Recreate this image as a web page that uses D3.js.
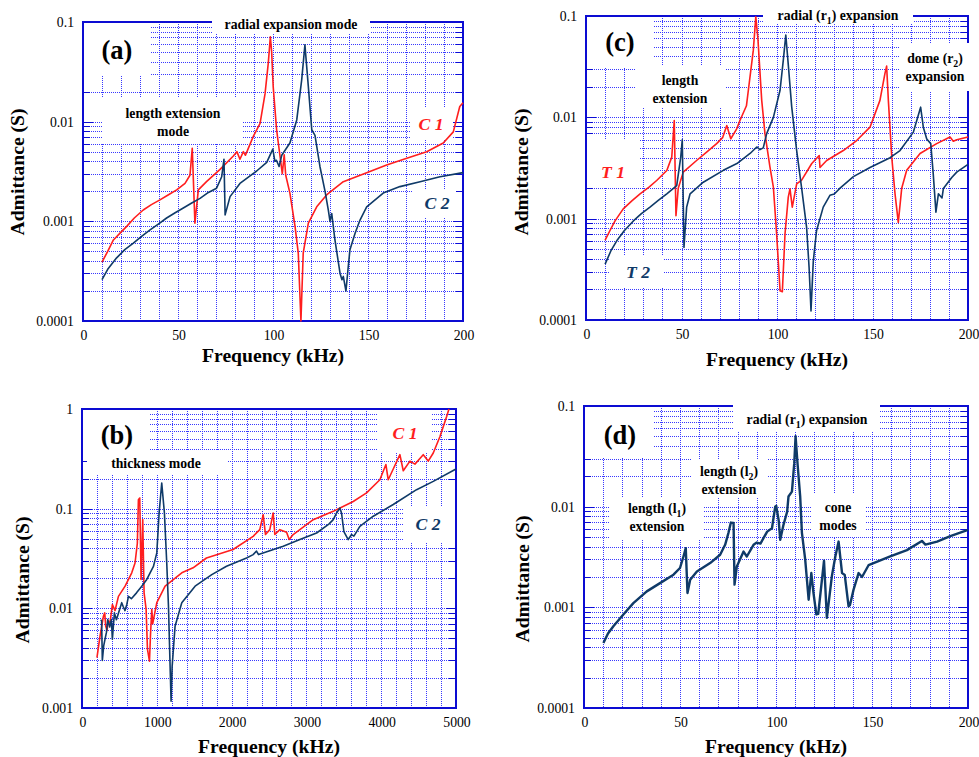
<!DOCTYPE html>
<html>
<head>
<meta charset="utf-8" />
<style>
  body { margin: 0; background: #fff; }
  svg { display: block; }
  .grid line { stroke: #3838ff; stroke-width: 1; stroke-dasharray: 1,1; shape-rendering: crispEdges; }
  .frame { fill: none; stroke: #0c0cd2; stroke-width: 2; }
  .tick { stroke: #0c0cd2; stroke-width: 1; shape-rendering: crispEdges; }
  .curve { fill: none; stroke-linejoin: round; }
</style>
</head>
<body>
<div id="chart"></div>
<script src="https://d3js.org/d3.v7.min.js"></script>
<script>

//// data : [frequency kHz, admittance S] ////
var aC1 = [[10,3.9e-4],[13,5.0e-4],[16,6.5e-4],[20,7.8e-4],[23,8.9e-4],[27,1.08e-3],[31.7,1.30e-3],[36,1.47e-3],
  [40.5,1.64e-3],[45,1.85e-3],[49.3,2.07e-3],[53.7,2.4e-3],[56.3,2.9e-3],[57.5,5.4e-3],[58.9,9.6e-4],[60.7,2.07e-3],
  [65,2.5e-3],[72,3.3e-3],[79,4.5e-3],[81,5.0e-3],[82.6,4.2e-3],[84.4,5.0e-3],[85.5,4.6e-3],[87,5.4e-3],[89.6,7.1e-3],
  [93.2,9.6e-3],[95.8,1.9e-2],[97.5,3.85e-2],[98.6,7.1e-2],[99.3,5.0e-2],[100.1,2.25e-2],[101.9,8.3e-3],[103.7,4.5e-3],
  [104.9,3.0e-3],[105.9,4.65e-3],[106.7,2.9e-3],[108.9,1.92e-3],[111.6,8.9e-4],[113.3,4.8e-4],[114.7,1.0e-4],
  [115.9,4.8e-4],[118.6,9.6e-4],[123,1.4e-3],[128.2,1.84e-3],[137,2.5e-3],[149.3,3.08e-3],[159.8,3.68e-3],
  [170.4,4.3e-3],[180.9,5.0e-3],[189.6,6.1e-3],[194.9,7.9e-3],[198.3,1.42e-2],[200,1.55e-2]];

var aC2 = [[10,2.6e-4],[13,3.3e-4],[17.7,4.3e-4],[22,5.2e-4],[26.5,6.05e-4],[31,7.1e-4],[35.3,8.2e-4],[40,9.5e-4],
  [44,1.08e-3],[48.5,1.22e-3],[52.8,1.36e-3],[57,1.52e-3],[61.6,1.7e-3],[66,1.95e-3],[70.3,2.15e-3],[73,2.8e-3],
  [74.2,4.2e-3],[74.8,1.16e-3],[77.4,1.77e-3],[82.6,2.4e-3],[91.4,3.2e-3],[96.7,3.9e-3],[99.9,5.3e-3],[101,4.0e-3],
  [101.8,4.1e-3],[103.2,3.55e-3],[104.6,4.6e-3],[108.9,6.1e-3],[112.5,1.04e-2],[115.1,2.63e-2],[116.8,5.9e-2],
  [118.6,2.25e-2],[120.4,8.3e-3],[122.1,7.3e-3],[124.7,3.55e-3],[127.4,2.0e-3],[129.1,1.3e-3],[130,1.0e-3],
  [130.9,1.2e-3],[132.6,6.5e-4],[135.3,3.0e-4],[136.3,2.6e-4],[137,2.8e-4],[138.4,2.0e-4],[139.6,3.5e-4],
  [140.5,5.2e-4],[143.2,7.6e-4],[145.8,1.03e-3],[149.3,1.4e-3],[158,1.92e-3],[166.8,2.23e-3],[177.4,2.5e-3],
  [187.9,2.8e-3],[200,3.08e-3]];

var bC1 = [[200,3.2e-3],[241,5.25e-3],[286,8.3e-3],[304,9.0e-3],[317,6.6e-3],[335,6.0e-3],[350,7.5e-3],[375,7.2e-3],
  [406,1.09e-2],[442,9.5e-3],[487,1.32e-2],[576,1.67e-2],[665,2.27e-2],[709,2.85e-2],[740,4.5e-2],[754,1.23e-1],
  [772,1.28e-1],[790,1.95e-2],[812,7.76e-2],[830,1.43e-2],[857,9.8e-3],[875,3.9e-3],[902,2.95e-3],[915,5.25e-3],
  [933,9.8e-3],[945,7.0e-3],[1000,1.14e-2],[1111,1.67e-2],[1334,2.27e-2],[1485,2.55e-2],[1664,3.2e-2],[2020,3.89e-2],
  [2288,5.28e-2],[2377,6.16e-2],[2422,8.7e-2],[2453,5.5e-2],[2511,6.16e-2],[2556,9.06e-2],[2578,5.5e-2],
  [2645,6.16e-2],[2735,5.8e-2],[2770,4.9e-2],[2823,5.5e-2],[3091,7.76e-2],[3359,9.4e-2],[3626,1.18e-1],
  [3804,1.44e-1],[3982,1.95e-1],[4063,2.77e-1],[4094,1.95e-1],[4161,2.5e-1],[4250,3.48e-1],[4295,2.4e-1],
  [4384,3.0e-1],[4451,2.8e-1],[4562,3.48e-1],[4629,3.0e-1],[4696,3.62e-1],[4786,5.3e-1],[4875,8.4e-1],[4906,1.0]];

var bC2 = [[250,7.7e-3],[262,7.5e-3],[272,3.0e-3],[290,4.2e-3],[308,4.9e-3],[326,5.7e-3],[344,7.7e-3],[370,6.5e-3],
  [393,7.7e-3],[406,4.9e-3],[433,9.0e-3],[460,7.7e-3],[531,1.14e-2],[549,1.05e-2],[575,9.5e-3],[600,1.1e-2],
  [621,1.32e-2],[660,1.25e-2],[729,1.43e-2],[799,1.67e-2],[866,1.95e-2],[955,2.63e-2],[1000,3.6e-2],[1031,9.06e-2],
  [1066,1.81e-1],[1102,9.0e-2],[1133,2.85e-2],[1156,1.05e-2],[1178,2.6e-3],[1191,1.17e-3],[1205,2.6e-3],
  [1244,6.6e-3],[1334,1.14e-2],[1512,1.67e-2],[1735,2.18e-2],[1932,2.64e-2],[2200,3.2e-2],[2288,3.46e-2],
  [2333,3.75e-2],[2360,3.46e-2],[2690,4.2e-2],[2913,4.9e-2],[3136,5.7e-2],[3300,7.0e-2],[3359,7.76e-2],
  [3404,9.06e-2],[3448,1.016e-1],[3470,9.0e-2],[3501,5.9e-2],[3559,4.9e-2],[3604,5.5e-2],[3635,5.3e-2],
  [3715,6.65e-2],[3894,8.4e-2],[4161,1.1e-1],[4473,1.55e-1],[4696,1.88e-1],[5000,2.5e-1]];

var cT1 = [[10,6.15e-4],[12.5,7.6e-4],[15.2,9.5e-4],[19.5,1.25e-3],[24,1.5e-3],[28.3,1.76e-3],[33,2.05e-3],[37,2.38e-3],
  [42.3,2.99e-3],[44.9,4.05e-3],[46.2,9.3e-3],[47.1,1.07e-3],[48.3,2.0e-3],[50.9,2.88e-3],[57.9,3.75e-3],[63,4.5e-3],
  [68.4,5.5e-3],[71.5,6.3e-3],[73.7,8.3e-3],[75.8,6.15e-3],[78.9,7.7e-3],[80.6,9.3e-3],[84,1.3e-2],[85,1.85e-2],
  [87.6,4.6e-2],[88.9,9.8e-2],[90,6.0e-2],[92,1.47e-2],[93.7,6.9e-3],[96.3,3.25e-3],[98.1,2.05e-3],[99.8,7.1e-4],
  [101.6,1.94e-4],[102.8,1.9e-4],[104.2,7.1e-4],[105.9,1.63e-3],[106.8,1.97e-3],[108,1.3e-3],[110.3,2.2e-3],
  [112.9,2.4e-3],[118.2,3.5e-3],[122.1,4.2e-3],[122.5,3.2e-3],[126,3.75e-3],[134.7,4.7e-3],[141.7,5.9e-3],
  [148.7,8.0e-3],[153.9,1.47e-2],[156.5,2.7e-2],[157.4,3.2e-2],[158.3,1.47e-2],[160.1,4.0e-3],[161.8,1.76e-3],
  [163.5,9.2e-4],[165.3,2.0e-3],[167.9,3.0e-3],[174.9,4.4e-3],[183.6,5.5e-3],[190.6,6.4e-3],[192.3,5.8e-3],
  [194.1,6.0e-3],[200,6.4e-3]];

var cT2 = [[10,3.56e-4],[13,4.8e-4],[16.1,6.05e-4],[20,7.6e-4],[24.8,9.5e-4],[29,1.12e-3],[33.5,1.3e-3],[38,1.52e-3],
  [42.3,1.76e-3],[47.5,2.12e-3],[49.6,4.05e-3],[50.4,6.0e-3],[51.3,5.2e-4],[52.7,1.3e-3],[54.5,1.76e-3],[61.4,2.29e-3],
  [71.9,3.0e-3],[79,3.5e-3],[85.9,4.4e-3],[89.4,5.1e-3],[91.1,4.8e-3],[92.8,5.0e-3],[94.6,6.9e-3],[98.1,1.0e-2],
  [101.6,1.85e-2],[103.3,3.67e-2],[104.6,6.5e-2],[106,3.15e-2],[107.7,1.27e-2],[110.3,4.7e-3],[112.9,2.0e-3],
  [115.5,8.2e-4],[116.8,3.3e-4],[117.8,1.23e-4],[119,3.8e-4],[120.7,7.6e-4],[124.2,1.3e-3],[127.7,1.7e-3],
  [130,1.75e-3],[133,2.0e-3],[140,2.6e-3],[148.7,3.2e-3],[159.2,4.0e-3],[164.4,4.7e-3],[171.4,7.15e-3],
  [175.2,1.26e-2],[176.6,8.0e-3],[178.4,6.1e-3],[180.5,5.5e-3],[181.8,2.77e-3],[183.2,1.16e-3],[184.5,1.76e-3],
  [186.4,1.6e-3],[187.1,1.98e-3],[191.5,2.55e-3],[194.1,2.88e-3],[200,3.43e-3]];

var dS = [[10.1,4.43e-4],[12.5,5.5e-4],[15.3,6.5e-4],[20.5,8.5e-4],[25.7,1.1e-3],[32.7,1.44e-3],[39.6,1.74e-3],
  [46.6,2.11e-3],[50,2.46e-3],[51.8,3.2e-3],[53,3.87e-3],[53.9,1.39e-3],[55.3,1.88e-3],[58.8,2.27e-3],[65.7,2.75e-3],
  [70.9,3.33e-3],[73.5,4.18e-3],[75.2,5.46e-3],[76.5,6.95e-3],[77.9,6.9e-3],[78.4,1.68e-3],[79.6,2.55e-3],
  [83.1,3.58e-3],[84.8,3.2e-3],[88.3,4.18e-3],[90,4.4e-3],[91.9,4.3e-3],[95.4,5.65e-3],[97.9,6.1e-3],[99.6,1.0e-2],
  [100.1,1.02e-2],[101.4,7.3e-3],[102.2,4.68e-3],[103.9,6.6e-3],[105.8,8.9e-3],[106.5,1.26e-2],[108.3,1.41e-2],
  [109.5,2.69e-2],[110.2,5.0e-2],[111.2,2.7e-2],[112.6,1.26e-2],[113.5,5.5e-3],[115.2,3.0e-3],[117,1.19e-3],
  [118.4,2.19e-3],[119.5,1.4e-3],[121,8.5e-4],[122,8.6e-4],[124.3,2.19e-3],[125,2.9e-3],[126.5,7.85e-4],
  [129.1,2.04e-3],[130.9,3.2e-3],[132.6,4.5e-3],[134.4,2.19e-3],[135.8,2.1e-3],[137.8,1.02e-3],[138.5,1.05e-3],
  [140.4,1.5e-3],[143,2.19e-3],[144.8,2.0e-3],[148.2,2.62e-3],[150.8,2.75e-3],[159.5,3.2e-3],[168.2,3.7e-3],
  [176,4.57e-3],[177.8,4.2e-3],[183.9,4.5e-3],[190.8,5.1e-3],[200,5.88e-3]];

// tick labels
var kHzTicks = [0, 50, 100, 150, 200];
var mhzTicks = [0, 1000, 2000, 3000, 4000, 5000];
var admTicks4 = ['0.0001', '0.001', '0.01', '0.1'];
var admTicks3 = ['0.001', '0.01', '0.1', '1'];

var red = '#ff1e1e', navy = '#0f3a68';

// pick a serif face that is really there (canvas width test)
var fontFace = (function () {
  var ctx = document.createElement('canvas').getContext('2d');
  var probe = 'abcdefghijklmnopqrstuvwxyz ABCDEFGHIJ 0123456789 ()';
  function w(f) { ctx.font = '40px ' + f; return ctx.measureText(probe).width; }
  var mono = w('monospace'), sans = w('sans-serif');
  var names = ['Liberation Serif', 'Tinos', 'Times New Roman', 'Times', 'DejaVu Serif', 'Noto Serif', 'FreeSerif', 'Nimbus Roman'];
  for (var i = 0; i < names.length; i++) {
    var a = w('"' + names[i] + '", monospace'), b = w('"' + names[i] + '", sans-serif');
    if (a !== mono && b !== sans) return '"' + names[i] + '", serif';
  }
  return 'serif';
})();

//// layout ////
var panels = [
  { box: [83, 22, 463, 321], x: [0, 200], y: [1e-4, 0.1], xt: kHzTicks, xStep: 10, yt: admTicks4,
    xTitle: [273, 362], yTitle: [24, 172], width: 1.6,
    series: [[aC1, red], [aC2, navy]],
    masks: [[84, 23, 150, 75], [212, 8, 370, 33], [102, 97, 243, 144], [410, 108, 452, 140], [413, 190, 456, 217]],
    notes: [{ t: ['(a)'], at: [117, 59], cls: 'tag' },
            { t: ['radial expansion mode'], at: [291, 29] },
            { t: ['length extension', 'mode'], at: [173, 118] },
            { t: ['C 1'], at: [431, 130], cls: 'slabel', fill: red },
            { t: ['C 2'], at: [437, 209], cls: 'slabel', fill: navy }] },
  { box: [82, 409, 456, 708], x: [0, 5000], y: [1e-3, 1], xt: mhzTicks, xStep: 200, yt: admTicks3,
    xTitle: [269, 753], yTitle: [29, 580], width: 1.6,
    series: [[bC1, red], [bC2, navy]],
    masks: [[83, 410, 150, 450], [87, 450, 227, 475], [378, 410, 432, 452], [403, 507, 455, 542]],
    notes: [{ t: ['(b)'], at: [117, 444], cls: 'tag' },
            { t: ['thickness mode'], at: [156, 468] },
            { t: ['C 1'], at: [405, 439], cls: 'slabel', fill: red },
            { t: ['C 2'], at: [428, 530], cls: 'slabel', fill: navy }] },
  { box: [586, 16, 968, 320], x: [0, 200], y: [1e-4, 0.1], xt: kHzTicks, xStep: 10, yt: admTicks4,
    xTitle: [777, 366], yTitle: [528, 172], width: 1.6,
    series: [[cT1, red], [cT2, navy]],
    masks: [[587, 17, 653, 68], [763, 2, 913, 24], [635, 66, 725, 107], [900, 43, 975, 91],
            [587, 140, 640, 188], [610, 256, 663, 288]],
    notes: [{ t: ['(c)'], at: [620, 51], cls: 'tag' },
            { t: ['radial (r_1) expansion'], at: [838, 20] },
            { t: ['length', 'extension'], at: [680, 85] },
            { t: ['dome (r_2)', 'expansion'], at: [935, 63] },
            { t: ['T 1'], at: [613, 178], cls: 'slabel', fill: red },
            { t: ['T 2'], at: [638, 278], cls: 'slabel', fill: navy }] },
  { box: [584, 406, 968, 708], x: [0, 200], y: [1e-4, 0.1], xt: kHzTicks, xStep: 10, yt: admTicks4,
    xTitle: [776, 753], yTitle: [529, 579], width: 2.4,
    series: [[dS, navy]],
    masks: [[585, 407, 653, 458], [733, 398, 880, 432], [692, 459, 767, 497], [610, 498, 703, 540],
            [812, 493, 866, 537]],
    notes: [{ t: ['(d)'], at: [620, 444], cls: 'tag' },
            { t: ['radial (r_1) expansion'], at: [807, 424] },
            { t: ['length (l_2)', 'extension'], at: [729, 476] },
            { t: ['length (l_1)', 'extension'], at: [657, 513] },
            { t: ['cone', 'modes'], at: [838, 512] }] }
];

var svg = d3.select('#chart').append('svg')
  .attr('width', 979)
  .attr('height', 757)
  .style('font-family', fontFace);

// scale all type so "Frequency (kHz)" comes out about 142px wide, as in the original
var probeT = svg.append('text').style('font-size', '20px').style('font-weight', 'bold').text('Frequency (kHz)');
var k = Math.min(1.05, 142 / probeT.node().getComputedTextLength());
probeT.remove();

var styles = {
  tlabel: { size: 14, weight: 'normal', italic: false },
  atitle: { size: 20, weight: 'bold', italic: false },
  note:   { size: 14, weight: 'bold', italic: false },
  tag:    { size: 27, weight: 'bold', italic: false },
  slabel: { size: 18, weight: 'bold', italic: true }
};
function styleText(sel, name) {
  var s = styles[name];
  return sel.style('font-size', (s.size * k) + 'px').style('font-weight', s.weight)
    .style('font-style', s.italic ? 'italic' : 'normal').attr('fill', '#000');
}

// writes "r_1" as r with subscript 1
function richText(sel, str) {
  str.split(/_(\d)/).forEach(function (part, i) {
    if (!part) return;
    var ts = sel.append('tspan').text(part);
    if (i % 2 === 1) ts.style('font-size', (10 * k) + 'px').attr('dy', 4);
    else if (i > 0) ts.attr('dy', -4);
  });
}

panels.forEach(function (p) {
  var x0 = p.box[0], y0 = p.box[1], x1 = p.box[2], y1 = p.box[3];
  var x = d3.scaleLinear().domain(p.x).range([x0, x1]);
  var y = d3.scaleLog().domain(p.y).range([y1, y0]);
  var g = svg.append('g');

  // minor log values 1..9 x 10^n
  var logVals = y.ticks().filter(function (v) { return v > p.y[0] * 1.0001 && v < p.y[1] * 0.9999; });
  var xVals = d3.range(p.x[0] + p.xStep, p.x[1] - p.xStep / 2, p.xStep);

  var grid = g.append('g').attr('class', 'grid');
  grid.selectAll('.h').data(logVals).enter().append('line')
    .attr('x1', x0).attr('x2', x1)
    .attr('y1', function (d) { return Math.round(y(d)) + 0.5; })
    .attr('y2', function (d) { return Math.round(y(d)) + 0.5; });
  grid.selectAll('.v').data(xVals).enter().append('line')
    .attr('y1', y0).attr('y2', y1)
    .attr('x1', function (d) { return Math.round(x(d)) + 0.5; })
    .attr('x2', function (d) { return Math.round(x(d)) + 0.5; });

  // inward ticks on left and right
  logVals.forEach(function (v) {
    var major = Math.abs(Math.log10(v) - Math.round(Math.log10(v))) < 1e-6;
    var len = major ? 10 : 7, yy = Math.round(y(v)) + 0.5;
    g.append('line').attr('class', 'tick').attr('x1', x0).attr('x2', x0 + len).attr('y1', yy).attr('y2', yy);
    g.append('line').attr('class', 'tick').attr('x1', x1).attr('x2', x1 - len).attr('y1', yy).attr('y2', yy);
  });

  g.append('rect').attr('class', 'frame')
    .attr('x', x0).attr('y', y0).attr('width', x1 - x0).attr('height', y1 - y0);

  // white label backgrounds
  g.selectAll('.mask').data(p.masks).enter().append('rect')
    .attr('fill', '#fff')
    .attr('x', function (d) { return d[0]; }).attr('y', function (d) { return d[1]; })
    .attr('width', function (d) { return d[2] - d[0]; }).attr('height', function (d) { return d[3] - d[1]; });

  // curves
  var line = d3.line().x(function (d) { return x(d[0]); }).y(function (d) { return y(d[1]); });
  p.series.forEach(function (s) {
    g.append('path').datum(s[0]).attr('class', 'curve')
      .attr('stroke', s[1]).attr('stroke-width', p.width).attr('d', line);
  });

  // tick labels
  styleText(g.selectAll('.xl').data(p.xt).enter().append('text'), 'tlabel')
    .attr('text-anchor', 'middle')
    .attr('x', function (d) { return x(d) + 1; })
    .attr('y', y1 + 19)
    .text(function (d) { return d; });
  styleText(g.selectAll('.yl').data(p.yt).enter().append('text'), 'tlabel')
    .attr('text-anchor', 'end')
    .attr('x', x0 - 9)
    .attr('y', function (d) { return y(+d) + 5; })
    .text(function (d) { return d; });

  styleText(g.append('text'), 'atitle').attr('text-anchor', 'middle')
    .attr('x', p.xTitle[0]).attr('y', p.xTitle[1]).text('Frequency (kHz)');
  styleText(g.append('text'), 'atitle').attr('text-anchor', 'middle')
    .attr('transform', 'translate(' + p.yTitle[0] + ',' + p.yTitle[1] + ') rotate(-90)')
    .text('Admittance (S)');

  // annotations
  p.notes.forEach(function (n) {
    n.t.forEach(function (str, i) {
      var t = styleText(g.append('text'), n.cls || 'note').attr('text-anchor', 'middle')
        .attr('x', n.at[0]).attr('y', n.at[1] + i * 17.5);
      if (n.fill) t.attr('fill', n.fill);
      richText(t, str);
    });
  });
});

</script>
</body>
</html>
